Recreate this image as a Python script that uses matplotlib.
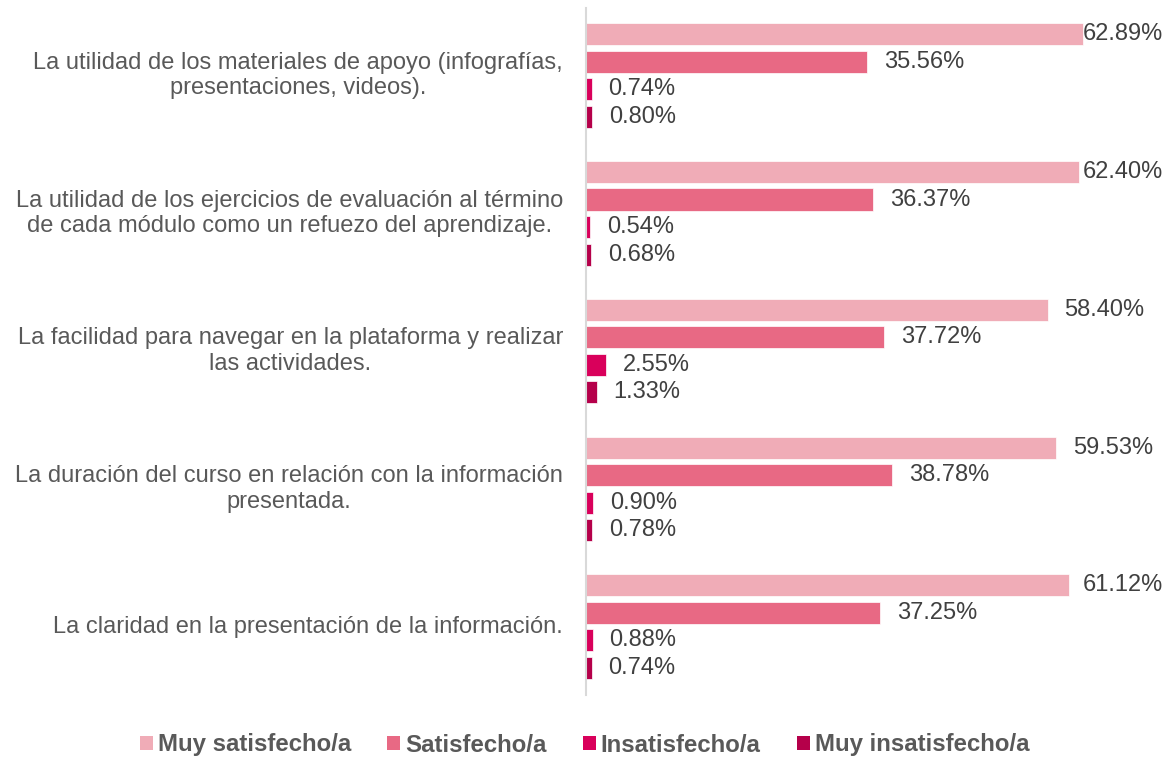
import matplotlib
matplotlib.use("Agg")
import matplotlib.pyplot as plt
from matplotlib.patches import Patch
import matplotlib.transforms as mtransforms

plt.rcParams['font.family'] = ['Liberation Sans', 'DejaVu Sans']

categories = [
    "La utilidad de los materiales de apoyo (infografías,\npresentaciones, videos).",
    "La utilidad de los ejercicios de evaluación al término\nde cada módulo como un refuezo del aprendizaje.",
    "La facilidad para navegar en la plataforma y realizar\nlas actividades.",
    "La duración del curso en relación con la información\npresentada.",
    "La claridad en la presentación de la información.",
]
series_names = ["Muy satisfecho/a", "Satisfecho/a", "Insatisfecho/a", "Muy insatisfecho/a"]
muy_satisfecho = [62.89, 62.40, 58.40, 59.53, 61.12]
satisfecho = [35.56, 36.37, 37.72, 38.78, 37.25]
insatisfecho = [0.74, 0.54, 2.55, 0.90, 0.88]
muy_insatisfecho = [0.80, 0.68, 1.33, 0.78, 0.74]

series = [muy_satisfecho, satisfecho, insatisfecho, muy_insatisfecho]
colors = ["#F0ACB7", "#E86984", "#D9005B", "#B5004A"]
text_color = "#404040"
label_color = "#595959"

fig = plt.figure(figsize=(11.69, 7.59), dpi=100)
ax = fig.add_axes([586/1169, 1 - 695/759, (1155-586)/1169, (695-8)/759])

group_step = 5
for j, (vals, col) in enumerate(zip(series, colors)):
    ys = [i * group_step + j for i in range(len(categories))]
    ax.barh(ys, vals, height=0.8, color=col, edgecolor='white', linewidth=0.5)
    for y, v in zip(ys, vals):
        x = min(v + 2.1, 62.9)
        ax.text(x, y, f"{v:.2f}%", va='center', ha='left', fontsize=17,
                color=text_color)

ax.set_xlim(0, 72)
ax.set_ylim(4 * group_step + 3 + 0.98, -0.95)
for s in ['top', 'right', 'bottom']:
    ax.spines[s].set_visible(False)
ax.spines['left'].set_color('#D9D9D9')
ax.spines['left'].set_linewidth(1.5)
ax.set_xticks([])
ax.set_yticks([])

trans = mtransforms.blended_transform_factory(fig.transFigure, ax.transData)
for i, cat in enumerate(categories):
    ax.text(563/1169, i * group_step + 1.5, cat, transform=trans, ha='right',
            va='center', multialignment='center', fontsize=17, color=label_color,
            linespacing=1.2)

handles = [Patch(facecolor=c, edgecolor='none') for c in colors]
leg = fig.legend(handles, series_names, loc='center', bbox_to_anchor=(0.5, 1 - 745/759),
                 ncol=4, frameon=False, handlelength=0.55, handleheight=0.55,
                 handletextpad=0.2, columnspacing=1.5,
                 prop={'weight': 'bold', 'size': 17.3})
for t in leg.get_texts():
    t.set_color(label_color)

fig.savefig("out.png", dpi=100)
